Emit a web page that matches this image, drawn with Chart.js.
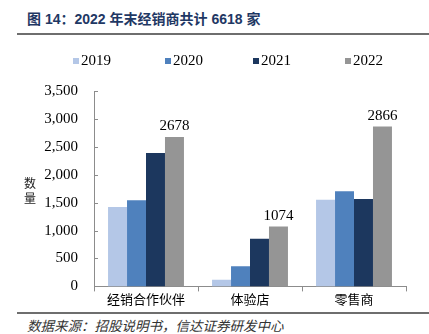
<!DOCTYPE html>
<html>
<head>
<meta charset="utf-8">
<script src="https://cdn.jsdelivr.net/npm/chart.js@4/dist/chart.umd.min.js"></script>
<style>
  html, body { margin: 0; padding: 0; background: #fff; }
  body { width: 429px; height: 334px; position: relative; overflow: hidden; }
  #title { position: absolute; left: 27px; top: 8px; font: bold 14px "Liberation Sans", "Noto Sans CJK SC", sans-serif; color: #1f3864; white-space: nowrap; }
  .rule { position: absolute; left: 17px; right: 0; height: 2px; background: #6e6e6e; }
  #ylabel { position: absolute; left: 24px; top: 175px; font: 12px "Noto Sans CJK SC", sans-serif; line-height: 15px; color: #222; width: 13px; }
  #source { position: absolute; left: 27px; top: 315px; font: italic 13.5px "Noto Sans CJK SC", sans-serif; color: #333; white-space: nowrap; }
  #wrap { position: absolute; left: 0; top: 0; width: 429px; height: 312px; }
  #legend { position: absolute; top: 51px; left: 0; height: 18px; font: 15px "Liberation Serif", serif; color: #000; }
  .li { position: absolute; top: 0; white-space: nowrap; line-height: 18px; }
  .li i { display: inline-block; width: 6px; height: 6px; margin-right: 2px; vertical-align: 1px; }
</style>
</head>
<body>
<div id="title">图 14：2022 年末经销商共计 6618 家</div>
<div class="rule" style="top:33px"></div>
<div id="wrap"><canvas id="c"></canvas></div>
<div id="legend"></div>
<div id="ylabel">数<br>量</div>
<div class="rule" style="top:312px"></div>
<div id="source">数据来源：招股说明书，信达证券研发中心</div>
<script>
const categories = ['经销合作伙伴', '体验店', '零售商'];
const seriesNames = ['2019', '2020', '2021', '2022'];
const v2019 = [1420, 121, 1554];
const v2020 = [1541, 363, 1705];
const v2021 = [2388, 852, 1566];
const v2022 = [2678, 1074, 2866];
const yTicks = [0, 500, 1000, 1500, 2000, 2500, 3000, 3500];

const colors = ['#b4c7e7', '#4f81bd', '#1c375e', '#959595'];
const legendX = [73, 165, 253, 345];
const serif = '"Liberation Serif", "Times New Roman", serif';
const axisGrey = '#8c8c8c';

// HTML legend built from the series arrays
const legendEl = document.getElementById('legend');
seriesNames.forEach((n, i) => {
  const d = document.createElement('div');
  d.className = 'li';
  d.style.left = legendX[i] + 'px';
  const sw = document.createElement('i');
  sw.style.background = colors[i];
  d.appendChild(sw);
  d.appendChild(document.createTextNode(n));
  legendEl.appendChild(d);
});

const innerTicks = {
  id: 'innerTicks',
  afterDraw(chart) {
    const y = chart.scales.y;
    const ctx = chart.ctx;
    const x0 = chart.chartArea.left;
    ctx.save();
    ctx.strokeStyle = axisGrey;
    ctx.lineWidth = 1;
    yTicks.forEach(v => {
      const py = Math.round(y.getPixelForValue(v)) + 0.5;
      ctx.beginPath();
      ctx.moveTo(x0, py);
      ctx.lineTo(x0 + 4, py);
      ctx.stroke();
    });
    ctx.restore();
  }
};

const valueLabels = {
  id: 'valueLabels',
  afterDatasetsDraw(chart) {
    const ctx = chart.ctx;
    const meta = chart.getDatasetMeta(3);
    ctx.save();
    ctx.font = '15px ' + serif;
    ctx.fillStyle = '#000';
    ctx.textAlign = 'center';
    ctx.textBaseline = 'bottom';
    meta.data.forEach((bar, i) => {
      ctx.fillText(String(v2022[i]), bar.x, bar.y - 3);
    });
    ctx.restore();
  }
};

new Chart(document.getElementById('c'), {
  type: 'bar',
  data: {
    labels: categories,
    datasets: [v2019, v2020, v2021, v2022].map((d, i) => ({
      label: seriesNames[i],
      data: d,
      backgroundColor: colors[i],
      borderWidth: 0,
      categoryPercentage: 0.73,
      barPercentage: 1.0
    }))
  },
  options: {
    responsive: true,
    maintainAspectRatio: false,
    animation: false,
    layout: { padding: { left: 0, right: 23, top: 91, bottom: 5 } },
    plugins: {
      tooltip: { enabled: false },
      legend: { display: false }
    },
    scales: {
      x: {
        grid: { display: true, drawOnChartArea: false, offset: true, tickLength: 5, color: axisGrey },
        border: { display: true, color: axisGrey },
        ticks: { padding: 0, color: '#000', font: { family: '"Noto Sans CJK SC", sans-serif', size: 13 } }
      },
      y: {
        min: 0,
        max: 3500,
        afterFit(s) { s.width = 94; },
        afterBuildTicks(s) { s.ticks = yTicks.map(v => ({ value: v })); },
        grid: { display: false, drawTicks: false },
        border: { display: true, color: axisGrey },
        ticks: {
          autoSkip: false,
          padding: 16,
          color: '#000',
          font: { family: serif, size: 15 },
          callback: v => v.toLocaleString('en-US')
        }
      }
    }
  },
  plugins: [innerTicks, valueLabels]
});
</script>
</body>
</html>
